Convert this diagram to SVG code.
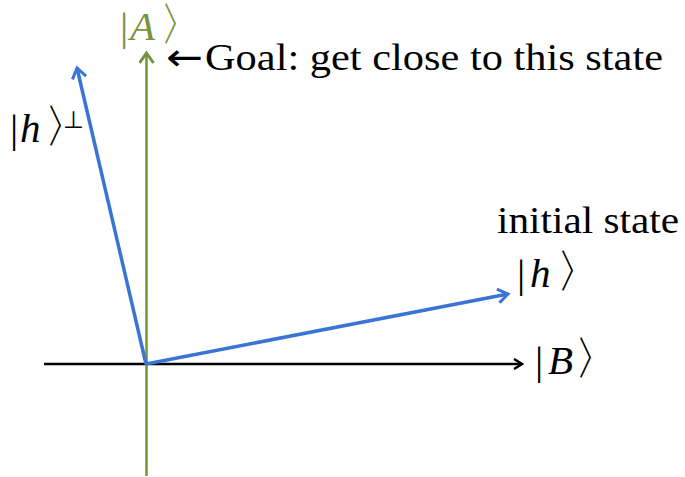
<svg xmlns="http://www.w3.org/2000/svg" width="685" height="477" viewBox="0 0 685 477">
<style>
.t{font-family:"Liberation Serif",serif;font-size:38px;fill:#000}
.m{font-family:"Liberation Serif",serif;font-size:41px;fill:#000}
.i{font-style:italic}
.g{fill:#77933c}
.br{font-family:"Liberation Serif",serif;font-size:46px}
</style>
<defs>
<marker id="ak" viewBox="0 0 12 12" refX="10" refY="6" markerWidth="12" markerHeight="12" markerUnits="userSpaceOnUse" orient="auto"><path d="M2,1 L10,6 L2,11" fill="none" stroke="#000" stroke-width="2.5"/></marker>
<marker id="ag" viewBox="0 0 16 16" refX="13" refY="8" markerWidth="16" markerHeight="16" markerUnits="userSpaceOnUse" orient="auto"><path d="M3,1 L13,8 L3,15" fill="none" stroke="#77933c" stroke-width="3"/></marker>
<marker id="ab" viewBox="0 0 16 16" refX="13" refY="8" markerWidth="16" markerHeight="16" markerUnits="userSpaceOnUse" orient="auto"><path d="M3,1 L13,8 L3,15" fill="none" stroke="#3a74d4" stroke-width="3"/></marker>
</defs>
<g id="connectors">
<line x1="44" y1="364" x2="522" y2="364" stroke="#000" stroke-width="2.5" marker-end="url(#ak)"/>
<line x1="146.5" y1="476" x2="146.5" y2="53" stroke="#77933c" stroke-width="2.5" marker-end="url(#ag)"/>
<line x1="146" y1="364" x2="508" y2="294" stroke="#3a74d4" stroke-width="3.5" marker-end="url(#ab)"/>
<line x1="146" y1="364" x2="77" y2="68" stroke="#3a74d4" stroke-width="3.5" marker-end="url(#ab)"/>
</g>
<g id="A">
<text class="m g" y="40"><tspan x="120">|</tspan><tspan class="i" x="130">A</tspan><tspan class="br" x="159">〉</tspan></text>
</g>
<g id="goal">
<text class="t" y="70"><tspan font-family="DejaVu Sans" font-size="38" x="166" textLength="37" lengthAdjust="spacingAndGlyphs">←</tspan><tspan x="205" textLength="458" lengthAdjust="spacingAndGlyphs">Goal: get close to this state</tspan></text>
</g>
<g id="hperp">
<text class="m" y="142"><tspan x="10">|</tspan><tspan class="i" x="20">h</tspan><tspan class="br" x="44">〉</tspan><tspan x="63" dy="-14" font-size="24" font-family="DejaVu Sans">⊥</tspan></text>
</g>
<g id="h">
<text class="t" x="497" y="233" textLength="182" lengthAdjust="spacingAndGlyphs">initial state</text>
<text class="m" y="287"><tspan x="517">|</tspan><tspan class="i" x="530">h</tspan><tspan class="br" x="556">〉</tspan></text>
</g>
<g id="B">
<text class="m" y="374"><tspan x="535">|</tspan><tspan class="i" x="548">B</tspan><tspan class="br" x="574">〉</tspan></text>
</g>
</svg>
